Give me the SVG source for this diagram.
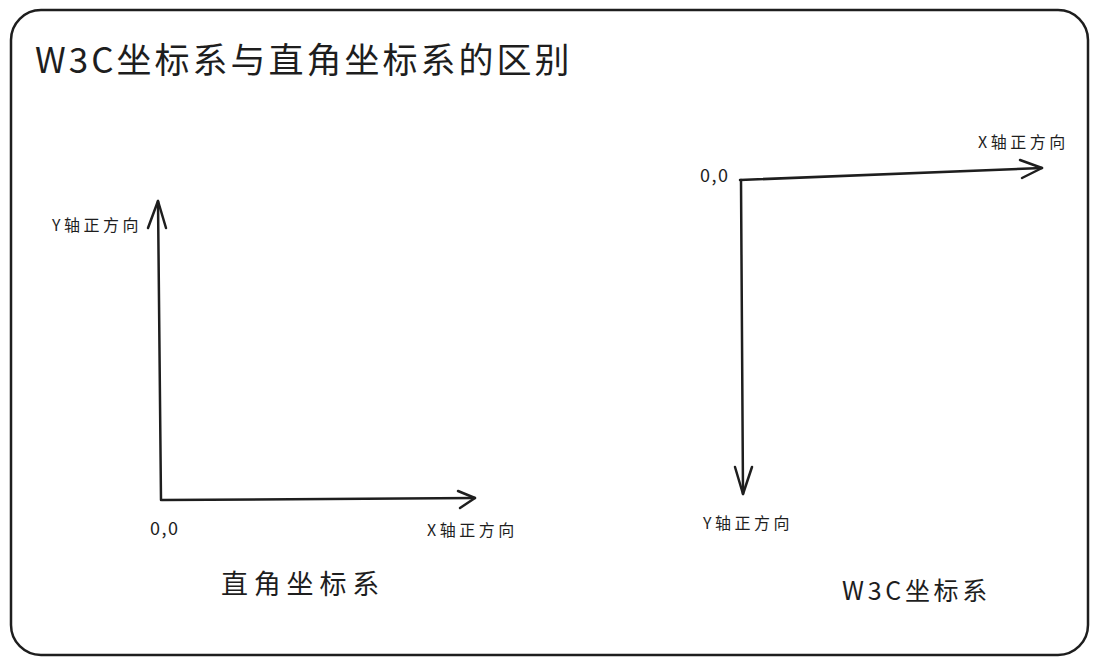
<svg xmlns="http://www.w3.org/2000/svg" width="1098" height="663" viewBox="0 0 1098 663">
<style>
.t{font-family:"Noto Sans CJK SC","Noto Sans",sans-serif;fill:#1e1e1e}
.s{font-size:16px;letter-spacing:3.5px}
.o{font-size:18px;letter-spacing:1.5px}
.ax{stroke:#1e1e1e;stroke-width:2.5;fill:none;stroke-linecap:round;stroke-linejoin:round}
</style>
<rect width="1098" height="663" fill="#ffffff"/>
<g id="frame">
<rect x="11" y="10" width="1077" height="645" rx="30" ry="30" fill="none" stroke="#1e1e1e" stroke-width="2.5"/>
</g>
<g id="title"><text class="t" x="35" y="73" font-size="35" letter-spacing="3">W3C坐标系与直角坐标系的区别</text></g>
<g id="connectors">
<path class="ax" d="M161 500 L158 201"/>
<path class="ax" d="M148 228 L158 201 L166 228"/>
<path class="ax" d="M162 500 L475 498"/>
<path class="ax" d="M458 491 L475 498 L460 508"/>
<path class="ax" d="M740 180 L1042 168"/>
<path class="ax" d="M1020 160 L1042 168 L1022 178"/>
<path class="ax" d="M741 180 L743 494"/>
<path class="ax" d="M735 467 L743 494 L752 467"/>
</g>
<g id="left-y-label"><text class="t s" x="52" y="231">Y轴正方向</text></g>
<g id="left-origin"><text class="t o" x="150" y="535">0,0</text></g>
<g id="left-x-label"><text class="t s" x="427" y="536">X轴正方向</text></g>
<g id="left-caption"><text class="t" x="221" y="594" font-size="27" letter-spacing="5.8">直角坐标系</text></g>
<g id="right-origin"><text class="t o" x="700" y="182">0,0</text></g>
<g id="right-x-label"><text class="t s" x="978" y="148">X轴正方向</text></g>
<g id="right-y-label"><text class="t s" x="703" y="529">Y轴正方向</text></g>
<g id="right-caption"><text class="t" x="842" y="600" font-size="25" letter-spacing="3.7">W3C坐标系</text></g>
</svg>
